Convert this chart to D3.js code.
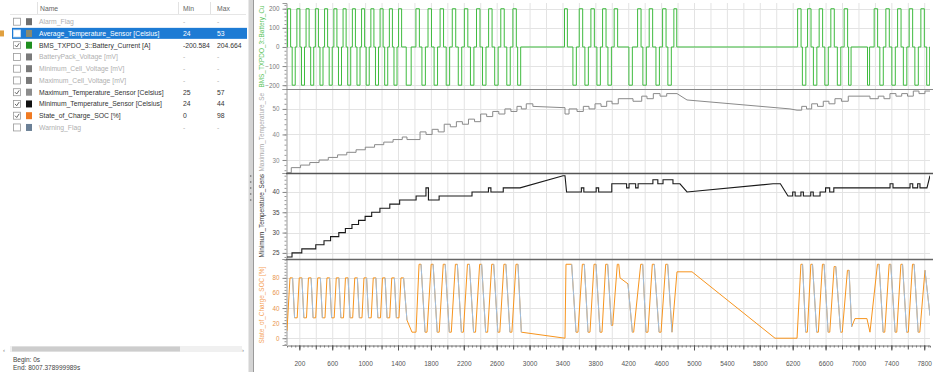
<!DOCTYPE html>
<html><head><meta charset="utf-8">
<script src="https://cdn.jsdelivr.net/npm/d3@7"></script>
<style>
html,body{margin:0;padding:0;background:#fff;overflow:hidden;}
svg{display:block;font-family:"Liberation Sans",Arial,sans-serif;}
</style></head><body>
<svg id="c" width="933" height="372"></svg>
<script>
// ---------------- DATA ----------------
const tableNames = ["Alarm_Flag","Average_Temperature_Sensor [Celsius]","BMS_TXPDO_3::Battery_Current [A]","BatteryPack_Voltage [mV]","Minimum_Cell_Voltage [mV]","Maximum_Cell_Voltage [mV]","Maximum_Temperature_Sensor [Celsius]","Minimum_Temperature_Sensor [Celsius]","State_of_Charge_SOC [%]","Warning_Flag"];
const tableMin = ["-","24","-200.584","-","-","-","25","24","0","-"];
const tableMax = ["-","53","204.664","-","-","-","57","44","98","-"];
const tableChecked = [false,false,true,false,false,false,true,true,true,false];
const selectedRow = 1;

const xTickLabels = [200,600,1000,1400,1800,2200,2600,3000,3400,3800,4200,4600,5000,5400,5800,6200,6600,7000,7400,7800];
const currentTicks = [200,100,0,-100,-200];
const maxTempTicks = [50,40,30];
const minTempTicks = [40,35,30,25];
const socTicks = [80,60,40,20,0];

// [start, end, value] pulses of battery current (baseline 0)
const currentPulses = [
 [57,94,200],[113,150,-200],[170,207,200],[226,263,-200],[282,319,200],[338,375,-200],[395,432,200],[451,488,-200],
 [507,544,200],[563,600,-200],[620,657,200],[676,713,-200],[732,769,200],[788,825,-200],[845,882,200],[901,938,-200],
 [957,994,200],[1013,1050,-200],[1070,1107,200],[1126,1163,-200],[1182,1219,200],[1238,1275,-200],[1295,1332,200],
 [1351,1388,-200],[1407,1444,200],[1500,1560,-200],
 [1618,1660,200],[1691,1733,-200],[1765,1807,200],[1839,1881,-200],[1912,1954,200],[1986,2028,-200],[2060,2102,200],
 [2133,2175,-200],[2207,2249,200],[2281,2323,-200],[2355,2397,200],[2428,2470,-200],[2502,2544,200],[2576,2618,-200],
 [2650,2692,200],[2723,2765,-200],[2797,2839,200],[2855,2892,-200],
 [3425,3460,200],[3527,3569,-200],[3604,3646,200],[3673,3715,-200],[3746,3788,200],[3819,3861,-200],[3888,3930,200],
 [3953,3995,-200],[4029,4071,200],[4208,4250,-200],[4314,4356,200],[4378,4420,-200],[4455,4497,200],[4537,4579,-200],
 [4618,4660,200],[4682,4724,-200],[4755,4790,200],
 [6260,6302,200],[6318,6360,-200],[6381,6423,200],[6452,6494,-200],[6522,6564,200],[6591,6633,-200],[6664,6706,200],
 [6743,6785,-200],[6826,6868,200],[6880,6910,-200],[7110,7135,-200],[7191,7233,200],[7260,7302,-200],[7333,7375,200],
 [7406,7448,-200],[7476,7518,200],[7546,7588,-200],[7617,7659,200],[7686,7728,-200],[7759,7801,200],[7830,7866,-200]
];

const maxTemp = [
 [50,25],[102,25],[102,27],[215,27],[215,28],[327,28],[327,29],[440,29],[440,30],[552,30],[552,31],[665,31],[665,32],
 [777,32],[777,33],[890,33],[890,34],[1002,34],[1002,35],[1115,35],[1115,36],[1227,36],[1227,37],[1340,37],[1340,38],
 [1452,38],[1452,39],[1509,39],[1509,38],[1668,38],[1668,41],[1741,41],[1741,40],[1815,40],[1815,42],[1889,42],[1889,41],
 [1962,41],[1962,44],[2036,44],[2036,43],[2110,43],[2110,45],[2183,45],[2183,44],[2257,44],[2257,46],[2331,46],[2331,45],
 [2405,45],[2405,48],[2478,48],[2478,47],[2552,47],[2552,49],[2626,49],[2626,48],[2700,48],[2700,50],[2773,50],[2773,49],
 [2847,49],[2847,51],[2900,51],[2900,50],[2960,50],[2960,52],[3040,52],[3040,51],[3407,50.5],[3431,50.5],[3431,48],
 [3480,48],[3480,50],[3577,50],[3577,49],[3654,49],[3654,51],[3723,51],[3723,50],[3796,50],[3796,52],[3869,52],[3869,51],
 [3938,51],[3938,53],[4003,53],[4003,52],[4079,52],[4079,54],[4258,54],[4258,53],[4364,53],[4364,55],[4428,55],[4428,54],
 [4505,54],[4505,56],[4587,56],[4587,55],[4668,55],[4668,56],[4793,56],[4915,53.5],[6167,50],[6253,49.5],[6310,49.5],
 [6310,51],[6368,51],[6368,50],[6431,50],[6431,52],[6502,52],[6502,51],[6572,51],[6572,53],[6641,53],[6641,52],[6714,52],
 [6714,54],[6793,54],[6793,53],[6876,53],[6876,55],[7140,55],[7140,54],[7241,54],[7241,55],[7310,55],[7310,54],[7383,54],
 [7383,56],[7456,56],[7456,55],[7526,55],[7526,56],[7596,56],[7596,55],[7667,55],[7667,57],[7736,57],[7736,56],[7809,56],
 [7809,57],[7870,57]
];

const minTemp = [
 [50,24],[111,24],[111,25],[230,25],[230,26],[400,26],[400,27],[500,27],[500,28],[580,28],[580,29],[680,29],[680,30],
 [760,30],[760,31],[840,31],[840,32],[920,32],[920,33],[1000,33],[1000,34],[1080,34],[1080,35],[1180,35],[1180,36],
 [1300,36],[1300,37],[1420,37],[1420,38],[1620,38],[1620,39],[1740,39],[1740,41],[1770,41],[1770,38],[1900,38],[1900,39],
 [2300,39],[2300,40],[2500,40],[2500,41],[2530,41],[2530,40],[2680,40],[2680,41],[2884,41],[3407,44],[3431,44],[3450,40],
 [3630,40],[3630,41],[3660,41],[3660,40],[3810,40],[3810,41],[3840,41],[3840,40],[4000,40],[4000,42],[4180,42],[4180,41],
 [4210,41],[4210,42],[4290,42],[4290,41],[4320,41],[4320,42],[4500,42],[4500,43],[4560,43],[4560,42],[4623,42],[4623,43],
 [4744,43],[4744,42],[4829,42],[4915,40],[5961,42],[6050,42],[6143,39],[6200,39],[6200,40],[6230,40],[6230,39],[6300,39],
 [6300,40],[6330,40],[6330,39],[6420,39],[6420,40],[6450,40],[6450,39],[6533,39],[6533,40],[6600,40],[6600,41],[6650,41],
 [6650,40],[6700,40],[6700,41],[7384,41],[7384,42],[7420,42],[7420,41],[7627,41],[7627,42],[7660,42],[7660,41],[7720,41],
 [7720,42],[7748,42],[7748,41],[7833,41],[7870,44]
];

const soc = [
 [50,10],[86,80],[118,80],[142,27],[174,27],[199,80],[231,80],[255,27],[287,27],[311,80],[343,80],[367,27],[399,27],
 [424,80],[456,80],[480,27],[512,27],[536,80],[568,80],[592,27],[624,27],[649,80],[681,80],[705,27],[737,27],[761,80],
 [793,80],[817,27],[849,27],[874,80],[906,80],[930,27],[962,27],[986,80],[1018,80],[1042,27],[1074,27],[1099,80],
 [1131,80],[1155,27],[1187,27],[1211,80],[1243,80],[1267,27],[1299,27],[1324,80],[1356,80],[1380,27],[1412,27],
 [1436,80],[1468,80],[1509,24],[1570,8],[1619,8],
 [1656,98],[1680,98],[1729,8],[1753,8],[1803,98],[1827,98],[1877,8],[1901,8],[1950,98],[1974,98],[2024,8],[2048,8],
 [2098,98],[2122,98],[2171,8],[2195,8],[2245,98],[2269,98],[2319,8],[2343,8],[2393,98],[2417,98],[2466,8],[2490,8],
 [2540,98],[2564,98],[2614,8],[2638,8],[2688,98],[2712,98],[2761,8],[2785,8],[2835,98],[2859,98],[2900,8],[3431,0],
 [3443,98],[3512,98],[3565,8],[3589,8],[3642,98],[3666,98],[3711,8],[3735,8],[3784,98],[3808,98],[3857,8],[3881,8],
 [3926,98],[3950,98],[3995,17],[4011,17],[4067,98],[4085,98],[4100,80],[4197,72],[4250,8],[4266,8],[4352,98],[4376,98],
 [4416,8],[4440,8],[4493,98],[4517,98],[4575,8],[4599,8],[4656,98],[4680,98],[4732,8],[4793,88],[4976,88],[5985,0],
 [6253,0],[6300,98],[6320,98],[6358,8],[6378,8],[6421,98],[6441,98],[6492,8],[6512,8],[6562,98],[6582,98],[6631,8],
 [6651,8],[6704,95],[6724,95],[6783,8],[6803,8],[6866,90],[6886,90],[6917,15],[6957,26],[7103,26],[7140,8],[7231,98],
 [7251,98],[7300,8],[7320,8],[7373,98],[7393,98],[7446,8],[7466,8],[7516,98],[7536,98],[7586,8],[7606,8],[7657,98],
 [7677,98],[7726,8],[7746,8],[7809,90],[7870,30]
];

// ---------------- STYLE ----------------
const swatch = ["#6f6f6f","#8a8a70","#1f8f1f","#7a7a7a","#7a7a7a","#7a7a7a","#8c8c8c","#111111","#f07a22","#6b8096"];
const FS = 6.8;
const FONT = '"Liberation Sans",Arial,sans-serif';

const svg = d3.select("#c");
svg.append("rect").attr("width",933).attr("height",372).attr("fill","#fff");
const defs = svg.append("defs");

// ---------------- LEFT TABLE ----------------
const left = svg.append("g");
const rowY = i => 21.7 + i*11.75;
left.append("line").attr("x1",10).attr("x2",246).attr("y1",14.5).attr("y2",14.5).attr("stroke","#e6e6e6");
[37,178,210].forEach(cx=>left.append("line").attr("x1",cx+.5).attr("x2",cx+.5).attr("y1",2).attr("y2",14).attr("stroke","#e2e2e2"));
left.append("text").attr("x",40).attr("y",10.5).attr("font-size",FS).attr("fill","#666").text("Name");
left.append("text").attr("x",183).attr("y",10.5).attr("font-size",FS).attr("fill","#666").text("Min");
left.append("text").attr("x",217).attr("y",10.5).attr("font-size",FS).attr("fill","#666").text("Max");

tableNames.forEach((name,i)=>{
  const cy = rowY(i);
  const g = left.append("g");
  const sel = i===selectedRow;
  if(sel){
    g.append("rect").attr("x",12).attr("y",cy-5.6).attr("width",235).attr("height",11).attr("fill","#1d7bd4");
    g.append("rect").attr("x",0).attr("y",cy-3).attr("width",4).attr("height",6).attr("fill","#e0a040");
  }
  g.append("rect").attr("x",13.5).attr("y",cy-3.5).attr("width",7).attr("height",7)
    .attr("fill","#fff").attr("stroke", sel?"#cfe3f7":"#9a9a9a").attr("stroke-width",0.8);
  if(tableChecked[i]){
    g.append("path").attr("d",`M15,${cy} L16.7,${cy+1.8} L19.2,${cy-1.9}`).attr("fill","none")
      .attr("stroke","#555").attr("stroke-width",0.9);
  }
  g.append("rect").attr("x",26).attr("y",cy-3.5).attr("width",6).attr("height",7).attr("fill",swatch[i]);
  const col = sel ? "#ffffff" : (tableChecked[i] ? "#333" : "#b0b0b0");
  g.append("text").attr("x",39).attr("y",cy+2.4).attr("font-size",FS).attr("fill",col).text(name);
  g.append("text").attr("x",183).attr("y",cy+2.4).attr("font-size",FS).attr("fill",col).text(tableMin[i]);
  g.append("text").attr("x",217).attr("y",cy+2.4).attr("font-size",FS).attr("fill",col).text(tableMax[i]);
});

// scrollbar + footer
left.append("rect").attr("x",10).attr("y",346).attr("width",232).attr("height",6).attr("fill","#f0f0f0");
left.append("rect").attr("x",12).attr("y",346.5).attr("width",168).attr("height",5).attr("fill","#cdcdcd");
left.append("text").attr("x",3).attr("y",352).attr("font-size",6).attr("fill","#777").text("‹");
left.append("text").attr("x",242).attr("y",352).attr("font-size",6).attr("fill","#777").text("›");
left.append("text").attr("x",13).attr("y",362).attr("font-size",6.5).attr("fill","#444").text("Begin: 0s");
left.append("text").attr("x",13).attr("y",370).attr("font-size",6.5).attr("fill","#444").text("End: 8007.378999989s");

// splitter
svg.append("rect").attr("x",248.5).attr("y",0).attr("width",4.5).attr("height",372).attr("fill","#d4d4d4");
svg.append("line").attr("x1",253.5).attr("x2",253.5).attr("y1",0).attr("y2",372).attr("stroke","#9a9a9a");
[176,182,188,194,200].forEach(gy=>svg.append("circle").attr("cx",250.7).attr("cy",gy).attr("r",0.8).attr("fill","#666"));

// ---------------- RIGHT CHARTS ----------------
const plotL = 287, plotR = 930;
const x = d3.scaleLinear().domain([50,7870]).range([plotL,plotR]);
const gridX = d3.range(200,7801,200);

const panels = [
  {id:"p1", top:3, bottom:89, domain:[-220,230], ticks:currentTicks, minor:20,
   label:"BMS_TXPDO_3::Battery_Current [A]", labelColor:"#5cc45c", tickColor:"#777"},
  {id:"p2", top:89, bottom:173, domain:[24.9,57.8], ticks:maxTempTicks, minor:2,
   label:"Maximum_Temperature_Sensor [Celsius]", labelColor:"#a8a8a8", tickColor:"#888"},
  {id:"p3", top:173, bottom:259, domain:[23.5,44.66], ticks:minTempTicks, minor:1,
   label:"Minimum_Temperature_Sensor [Celsius]", labelColor:"#333", tickColor:"#444"},
  {id:"p4", top:259, bottom:345, domain:[-9,105], ticks:socTicks, minor:4,
   label:"State_of_Charge_SOC [%]", labelColor:"#f5a35a", tickColor:"#e8944a"}
];

panels.forEach(p=>{
  p.y = d3.scaleLinear().domain(p.domain).range([p.bottom,p.top]);
  defs.append("clipPath").attr("id","clip-"+p.id).append("rect")
    .attr("x",plotL).attr("y",p.top).attr("width",plotR-plotL).attr("height",p.bottom-p.top);
  const g = svg.append("g");
  g.selectAll(".vg").data(gridX).join("line").attr("x1",d=>x(d)+.5).attr("x2",d=>x(d)+.5)
    .attr("y1",p.top).attr("y2",p.bottom).attr("stroke","#e3e3e3").attr("stroke-width",1);
  g.selectAll(".hg").data(p.ticks).join("line").attr("x1",plotL).attr("x2",plotR)
    .attr("y1",d=>Math.round(p.y(d))+.5).attr("y2",d=>Math.round(p.y(d))+.5).attr("stroke","#e3e3e3");
  const lo = Math.ceil(p.domain[0]/p.minor)*p.minor;
  const minorVals = d3.range(lo, p.domain[1], p.minor);
  const ax2 = g.append("g").attr("transform",`translate(${plotL-0.5},0)`)
    .call(d3.axisLeft(p.y).tickValues(minorVals).tickSize(2).tickFormat(""));
  ax2.select(".domain").remove();
  ax2.selectAll("line").attr("stroke","#999");
  const ax = g.append("g").attr("transform",`translate(${plotL-0.5},0)`)
    .call(d3.axisLeft(p.y).tickValues(p.ticks).tickSize(4).tickPadding(3));
  ax.select(".domain").attr("stroke","#999");
  ax.selectAll("line").attr("stroke","#888");
  ax.selectAll("text").attr("font-size",6.3).attr("fill",p.tickColor).attr("font-family",FONT);
  // rotated label, shortened to fit the panel height
  const t = g.append("text")
    .attr("transform",`translate(263.5,${p.bottom-1.5}) rotate(-90)`)
    .attr("font-size",6.4).attr("fill",p.labelColor).text(p.label);
  const maxLen = p.bottom - p.top - 2;
  let s = p.label;
  while (t.node().getComputedTextLength() > maxLen && s.length > 3) {
    s = s.slice(0,-1);
    t.text(s);
  }
});

const [P1,P2,P3,P4] = panels;
const mkLine = (ys) => d3.line().x(d=>x(d[0])).y(d=>ys(d[1]));

// current: step from pulses
const pulses = currentPulses.slice().sort((a,b)=>a[0]-b[0]);
const curPts = [[50,0]];
pulses.forEach(([s,e,v])=>{ curPts.push([s,0],[s,v],[e,v],[e,0]); });
curPts.push([7870,0]);
svg.append("g").attr("clip-path","url(#clip-p1)").append("path")
  .attr("d",mkLine(P1.y)(curPts)).attr("fill","none").attr("stroke","#3fbb3f").attr("stroke-width",1);

svg.append("g").attr("clip-path","url(#clip-p2)").append("path")
  .attr("d",mkLine(P2.y)(maxTemp)).attr("fill","none").attr("stroke","#8a8a8a").attr("stroke-width",1);

svg.append("g").attr("clip-path","url(#clip-p3)").append("path")
  .attr("d",mkLine(P3.y)(minTemp)).attr("fill","none").attr("stroke","#1a1a1a").attr("stroke-width",1.1);

const socG = svg.append("g").attr("clip-path","url(#clip-p4)");
socG.append("path").attr("d",mkLine(P4.y)(soc)).attr("fill","none").attr("stroke","#f7941d").attr("stroke-width",1);
const falling = d3.pairs(soc).filter(([a,b])=>b[1]<a[1]-20 && b[0]-a[0]<200);
socG.selectAll(".fall").data(falling).join("path")
  .attr("d",d=>mkLine(P4.y)(d)).attr("fill","none").attr("stroke","#9fc0e3").attr("stroke-width",1);

// panel separators
svg.append("line").attr("x1",plotL-1).attr("x2",933).attr("y1",89.5).attr("y2",89.5).attr("stroke","#888").attr("stroke-width",1.2);
svg.append("line").attr("x1",plotL-1).attr("x2",933).attr("y1",173.5).attr("y2",173.5).attr("stroke","#555").attr("stroke-width",1.5);
svg.append("line").attr("x1",plotL-1).attr("x2",933).attr("y1",259.5).attr("y2",259.5).attr("stroke","#666").attr("stroke-width",1.5);

// x axis
const xAxisY = 345.5;
const xm = svg.append("g").attr("transform",`translate(0,${xAxisY})`)
  .call(d3.axisBottom(x).tickValues(d3.range(100,7870,50)).tickSize(2).tickFormat(""));
xm.selectAll("line").attr("stroke","#777");
xm.select(".domain").attr("stroke","#777");
const xM = svg.append("g").attr("transform",`translate(0,${xAxisY})`)
  .call(d3.axisBottom(x).tickValues(gridX).tickSize(4).tickFormat(""));
xM.selectAll("line").attr("stroke","#555");
xM.select(".domain").remove();
const xL = svg.append("g").attr("transform",`translate(0,${xAxisY})`)
  .call(d3.axisBottom(x).tickValues(xTickLabels).tickSize(5).tickPadding(11).tickFormat(d=>d));
xL.select(".domain").remove();
xL.selectAll("line").attr("stroke","#555");
xL.selectAll("text").attr("font-size",6.5).attr("fill","#555").attr("font-family",FONT);
</script>
</body></html>
